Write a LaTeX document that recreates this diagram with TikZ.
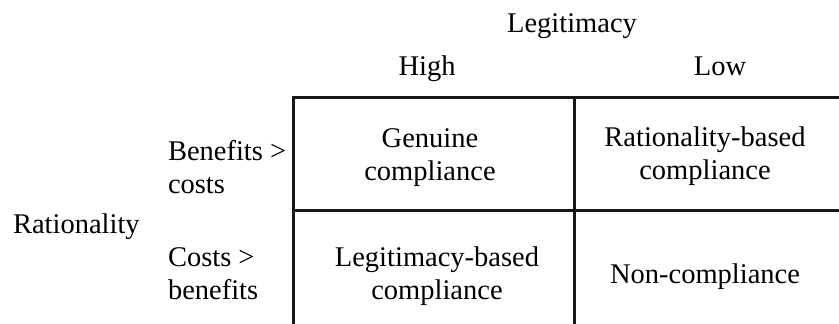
\documentclass[tikz,border=0pt]{standalone}
\usepackage{fontspec}
\setmainfont{Liberation Serif}
\begin{document}
\begin{tikzpicture}[x=1pt,y=1pt,
  every node/.style={inner sep=0pt,outer sep=0pt,font=\fontsize{28.5}{33}\selectfont},
  cell/.style={align=center,anchor=center},
  rowlab/.style={align=left,anchor=west},
  single/.style={anchor=base},
  grid/.style={line width=3pt,black!90}]
\useasboundingbox (0,0) rectangle (839,-324);
% grid lines
\coordinate (tl) at (293,-97);
\coordinate (tr) at (839,-97);
\coordinate (tm) at (574,-97);
\coordinate (bl) at (293,-324);
\coordinate (bm) at (574,-324);
\coordinate (ml) at (293,-210);
\coordinate (mr) at (839,-210);
\draw[grid] (bl) -- (tl) -- (tr);
\draw[grid] (tm) -- (bm);
\draw[grid] (ml) -- (mr);
% headers
\node[single] (legit) at (572,-32) {Legitimacy};
\node[single] (high) at (427,-75) {High};
\node[single] (low) at (720,-75) {Low};
% row labels
\node[single,anchor=base west] (rat) at (13,-233) {Rationality};
\node[rowlab] (bc) at (168,-170) {\strut Benefits >\\\strut costs};
\node[rowlab] (cb) at (168,-276) {\strut Costs >\\\strut benefits};
% cells
\node[cell] (gen) at (430,-157) {\strut Genuine\\\strut compliance};
\node[cell] (rbc) at (705,-156) {\strut Rationality-based\\\strut compliance};
\node[cell] (lbc) at (437,-276) {\strut Legitimacy-based\\\strut compliance};
\node[single] (non) at (705,-283) {Non-compliance};
\end{tikzpicture}
\end{document}
